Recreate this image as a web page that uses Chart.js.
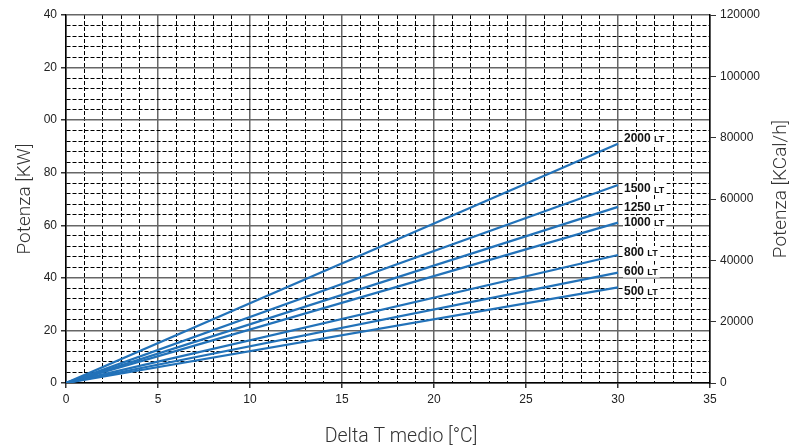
<!DOCTYPE html>
<html><head><meta charset="utf-8">
<script src="https://cdn.jsdelivr.net/npm/chart.js@4/dist/chart.umd.min.js"></script>
<style>html,body{margin:0;padding:0;background:#fff}#wrap{width:802px;height:448px}</style>
</head><body><div id="wrap"><canvas id="c" width="802" height="448"></canvas></div>
<script>
// ---- data ----
const seriesNames = ['2000', '1500', '1250', '1000', '800', '600', '500'];
const deltaT = [0, 30];
const kw2000 = [0, 91];
const kw1500 = [0, 75.3];
const kw1250 = [0, 67];
const kw1000 = [0, 61];
const kw800 = [0, 48.7];
const kw600 = [0, 42];
const kw500 = [0, 36.4];
const leftTickLabels = ['0', '20', '40', '60', '80', '00', '20', '40'];
const rightTickLabels = ['0', '20000', '40000', '60000', '80000', '100000', '120000'];
const labelUnit = 'LT';
const xTitle = 'Delta T medio [°C]';
const yTitle = 'Potenza [KW]';
const y2Title = 'Potenza [KCal/h]';

const seriesValues = [kw2000, kw1500, kw1250, kw1000, kw800, kw600, kw500];
const labelDy = [-5, 4, 1, 0, -2, -1, 4];
const blue = '#2272b9';
const tickFont = {family: 'Liberation Sans, Arial, sans-serif', size: 12};

const datasets = seriesNames.map((n, i) => ({
  label: n + ' ' + labelUnit,
  data: deltaT.map((x, j) => ({x: x, y: seriesValues[i][j]})),
  borderColor: blue,
  borderWidth: 2.2,
  pointRadius: 0,
  fill: false,
  tension: 0,
  yAxisID: 'y'
}));

const endLabels = {
  id: 'endLabels',
  afterDatasetsDraw(chart) {
    const ctx = chart.ctx;
    ctx.save();
    chart.data.datasets.forEach((ds, i) => {
      const meta = chart.getDatasetMeta(i);
      const pt = meta.data[meta.data.length - 1];
      const x = pt.x + 6, y = pt.y + labelDy[i];
      const num = seriesNames[i];
      ctx.font = 'bold 12px "Liberation Sans", Arial, sans-serif';
      const w1 = ctx.measureText(num + ' ').width;
      ctx.font = 'bold 9px "Liberation Sans", Arial, sans-serif';
      const w2 = ctx.measureText(labelUnit).width;
      ctx.fillStyle = '#fff';
      ctx.fillRect(x - 1, y - 7, w1 + w2 + 3, 13);
      ctx.fillStyle = '#111';
      ctx.textBaseline = 'middle';
      ctx.textAlign = 'left';
      ctx.font = 'bold 12px "Liberation Sans", Arial, sans-serif';
      ctx.fillText(num, x, y);
      ctx.font = 'bold 9px "Liberation Sans", Arial, sans-serif';
      ctx.fillText(labelUnit, x + w1, y + 1);
    });
    ctx.restore();
  }
};

const axisTitles = {
  id: 'axisTitles',
  afterDraw(chart) {
    const ctx = chart.ctx;
    const area = chart.chartArea;
    ctx.save();
    ctx.fillStyle = '#333';
    ctx.textAlign = 'center';
    ctx.textBaseline = 'middle';
    ctx.font = '300 19.5px Roboto';
    ctx.fillText(xTitle, chart.width / 2, 437);
    ctx.font = '300 19px Roboto';
    ctx.save();
    ctx.translate(25, (area.top + area.bottom) / 2);
    ctx.rotate(-Math.PI / 2);
    ctx.fillText(yTitle, 0, 0);
    ctx.restore();
    ctx.save();
    ctx.translate(781, (area.top + area.bottom) / 2 - 10);
    ctx.rotate(-Math.PI / 2);
    ctx.fillText(y2Title, 0, 0);
    ctx.restore();
    ctx.restore();
  }
};

new Chart(document.getElementById('c'), {
  type: 'line',
  data: {datasets: datasets},
  plugins: [endLabels, axisTitles],
  options: {
    responsive: false,
    animation: false,
    layout: {padding: {top: 15, left: 0, right: 0, bottom: 0}},
    plugins: {legend: {display: false}, tooltip: {enabled: false}},
    scales: {
      x: {
        type: 'linear', position: 'bottom', min: 0, max: 35,
        afterFit: s => { s.height = 65; },
        ticks: {
          stepSize: 1, autoSkip: false, maxRotation: 0, color: '#222', font: tickFont, padding: 4,
          callback: v => (v % 5 === 0 ? String(v) : '')
        },
        grid: {
          color: c => (c.tick && c.tick.value % 5 === 0 ? '#666' : '#000'),
          lineWidth: c => (c.tick && c.tick.value % 5 === 0 ? 1.5 : 1),
          tickLength: 5,
          tickColor: c => (c.tick && c.tick.value % 5 === 0 ? '#333' : 'rgba(0,0,0,0)')
        },
        border: {
          display: true, color: '#000', width: 1.5,
          dash: c => (c.tick && c.tick.value % 5 !== 0 ? [4, 2] : [])
        },
        title: {display: false}
      },
      y: {
        type: 'linear', position: 'left', min: 0, max: 140,
        afterFit: s => { s.width = 66; },
        ticks: {
          stepSize: 4, autoSkip: false, color: '#222', font: tickFont, padding: 4,
          callback: v => (v % 20 === 0 ? leftTickLabels[v / 20] : '')
        },
        grid: {
          color: c => (c.tick && c.tick.value % 20 === 0 ? '#666' : '#000'),
          lineWidth: c => (c.tick && c.tick.value % 20 === 0 ? 1.5 : 1),
          tickLength: 5,
          tickColor: c => (c.tick && c.tick.value % 20 === 0 ? '#333' : 'rgba(0,0,0,0)')
        },
        border: {
          display: true, color: '#000', width: 1.5,
          dash: c => (c.tick && c.tick.value % 20 !== 0 ? [4, 2] : [])
        },
        title: {display: false}
      },
      y2: {
        type: 'linear', position: 'right', min: 0, max: 120000,
        afterFit: s => { s.width = 92; },
        ticks: {
          stepSize: 20000, autoSkip: false, color: '#222', font: tickFont, padding: 4,
          callback: v => rightTickLabels[Math.round(v / 20000)]
        },
        grid: {drawOnChartArea: false, tickLength: 6, color: '#333', lineWidth: 1},
        border: {display: true, color: '#000', width: 1.5},
        title: {display: false}
      }
    }
  }
});
</script>
</body></html>
